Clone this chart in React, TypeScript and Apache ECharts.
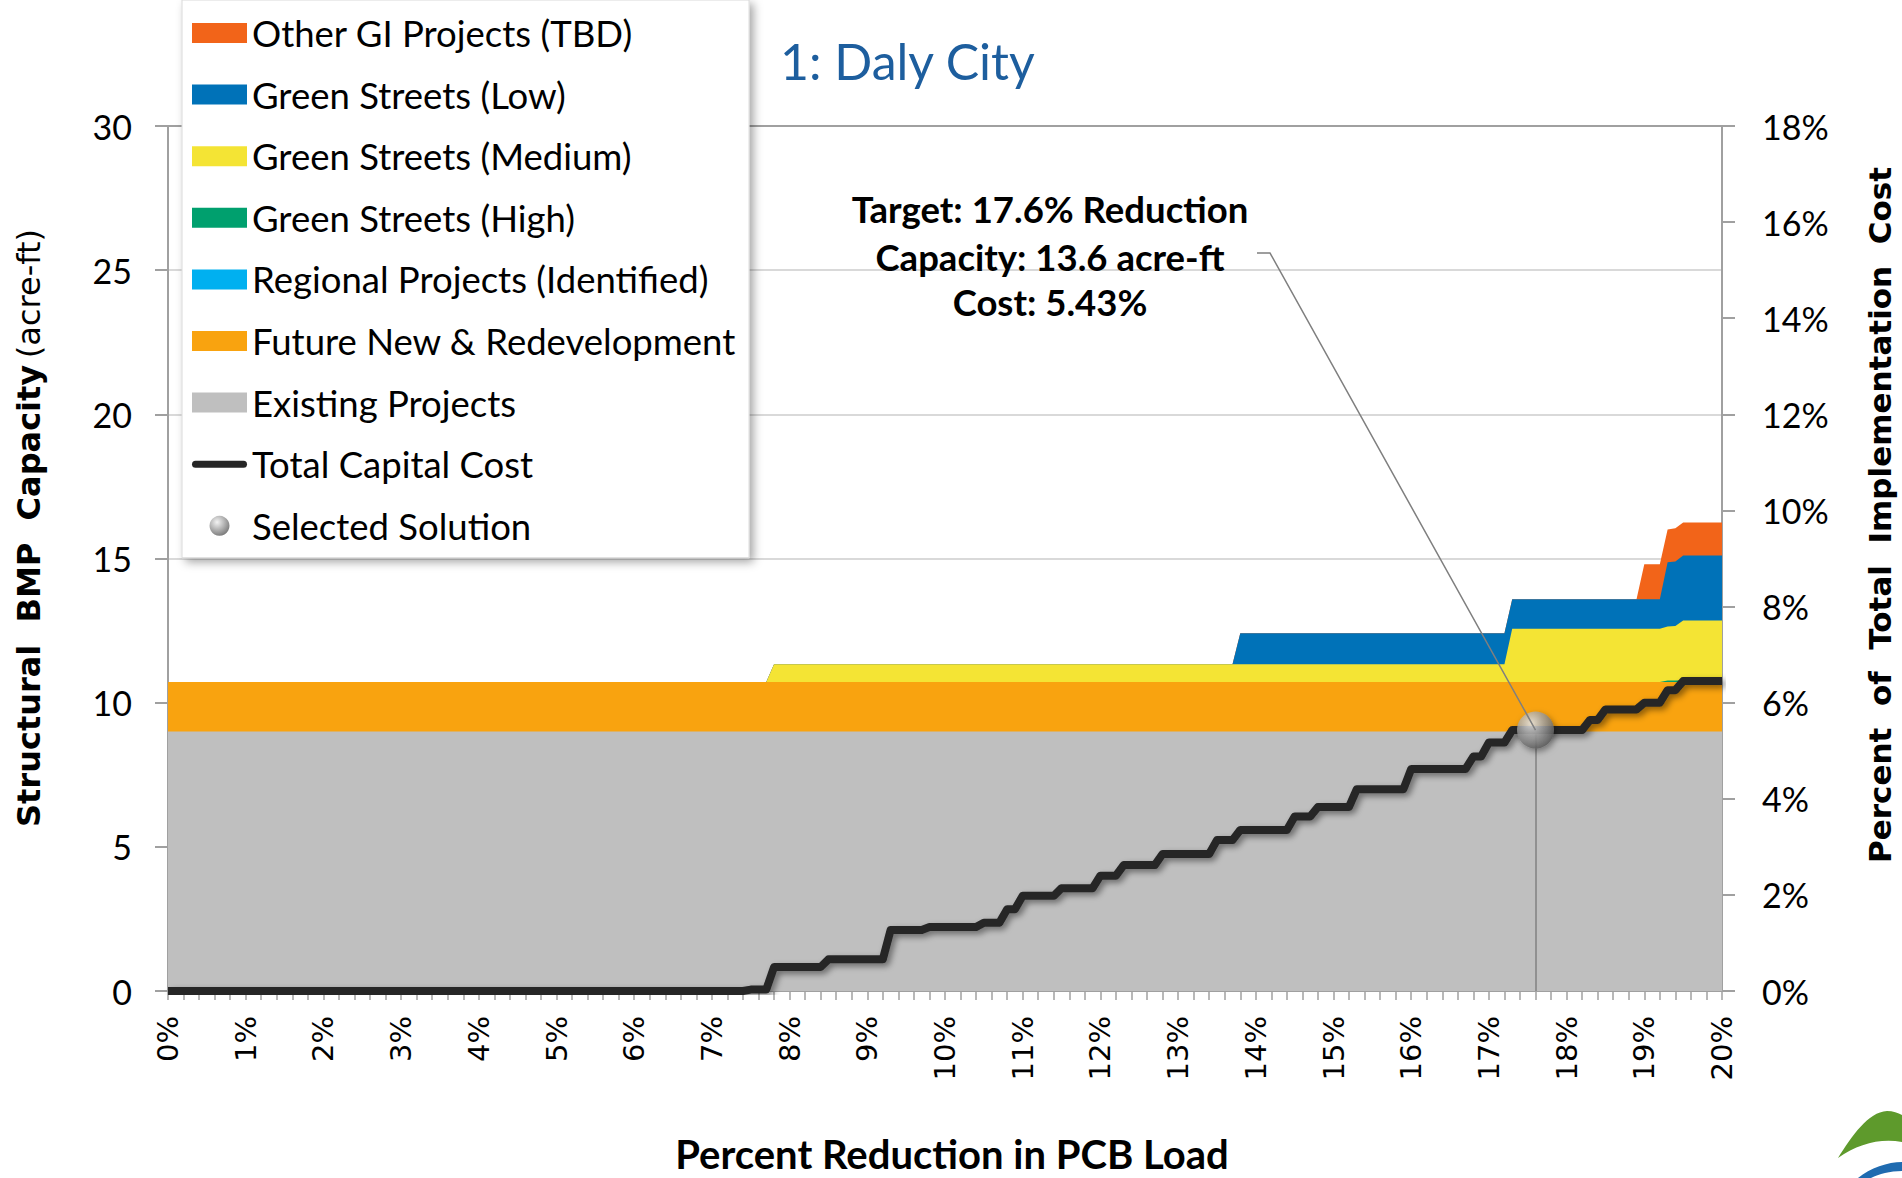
import React, { useEffect, useRef } from "react";
import * as echarts from "echarts";

// ---------- data ----------
// shared x break points (% reduction in PCB load) for the capacity areas
const areaX = [0, 7.7, 7.8, 13.7, 13.8, 17.2, 17.3, 18.9, 19.0, 19.2, 19.3, 19.4, 19.5, 20];
// capacities (acre-ft) of each layer, listed bottom -> top
const existingProjects = [9.0, 9.0, 9.0, 9.0, 9.0, 9.0, 9.0, 9.0, 9.0, 9.0, 9.0, 9.0, 9.0, 9.0];
const futureNewRedevelopment = [1.72, 1.72, 1.72, 1.72, 1.72, 1.72, 1.72, 1.72, 1.72, 1.72, 1.72, 1.72, 1.72, 1.72];
const regionalProjects = [0, 0, 0, 0, 0, 0, 0, 0, 0, 0, 0, 0, 0, 0];
const greenStreetsHigh = [0, 0, 0, 0, 0, 0, 0, 0, 0, 0, 0.05, 0.05, 0.06, 0.06];
const greenStreetsMedium = [0, 0, 0.61, 0.61, 0.61, 0.61, 1.84, 1.84, 1.84, 1.84, 1.87, 1.89, 2.07, 2.07];
const greenStreetsLow = [0, 0, 0, 0, 1.08, 1.08, 1.03, 1.03, 1.03, 1.03, 2.23, 2.24, 2.25, 2.25];
const otherGIProjects = [0, 0, 0, 0, 0, 0, 0, 0, 1.21, 1.21, 1.14, 1.15, 1.15, 1.15];

// total capital cost (% of total implementation cost), corner points of the step line
const costX = [0, 7.4, 7.5, 7.7, 7.8, 8.4, 8.5, 9.2, 9.3, 9.7, 9.8, 10.4, 10.5, 10.7, 10.8, 10.9, 11.0, 11.4, 11.5, 11.9,
  12.0, 12.2, 12.3, 12.7, 12.8, 13.4, 13.5, 13.7, 13.8, 14.4, 14.5, 14.7, 14.8, 15.2, 15.3, 15.9, 16.0, 16.7, 16.8, 16.9,
  17.0, 17.2, 17.3, 18.2, 18.3, 18.4, 18.5, 18.9, 19.0, 19.2, 19.3, 19.4, 19.5, 20];
const costY = [0, 0, 0.03, 0.03, 0.5, 0.5, 0.66, 0.66, 1.27, 1.27, 1.33, 1.33, 1.42, 1.42, 1.70, 1.70, 1.98, 1.98, 2.14, 2.14,
  2.40, 2.40, 2.62, 2.62, 2.85, 2.85, 3.14, 3.14, 3.35, 3.35, 3.63, 3.63, 3.83, 3.83, 4.20, 4.20, 4.62, 4.62, 4.88, 4.88,
  5.17, 5.17, 5.43, 5.43, 5.64, 5.64, 5.86, 5.86, 6.00, 6.00, 6.26, 6.26, 6.45, 6.45];

// selected solution
const selectedReduction = 17.6;
const selectedCost = 5.43;
const annotationLines = ["Target: 17.6% Reduction", "Capacity: 13.6 acre-ft", "Cost: 5.43%"];

const legendNames = [
  "Other GI Projects (TBD)",
  "Green Streets (Low)",
  "Green Streets (Medium)",
  "Green Streets (High)",
  "Regional Projects (Identified)",
  "Future New & Redevelopment",
  "Existing Projects",
  "Total Capital Cost",
  "Selected Solution",
];

const CAL = "Lato, 'Noto Sans', sans-serif";
const VER = "'DejaVu Sans', Verdana, sans-serif";
const AXIS_GRAY = "#A0A0A0";

let shapesRegistered = false;
function registerShapes() {
  if (shapesRegistered) return;
  shapesRegistered = true;
  echarts.graphic.registerShape(
    "logoGreen",
    echarts.graphic.extendPath(
      "M1838,1158 C1852,1136 1868,1112 1887,1111 C1893,1111 1898,1113 1902,1115 L1902,1142 C1880,1138 1858,1144 1838,1158 Z",
      {}
    )
  );
  echarts.graphic.registerShape(
    "logoBlue",
    echarts.graphic.extendPath(
      "M1858,1178 C1870,1168 1888,1162 1902,1162 L1902,1171 C1890,1171 1879,1174 1871,1178 Z",
      {}
    )
  );
}

// layers bottom -> top
const layers = [
  { name: "Existing Projects", values: existingProjects, color: "#BFBFBF" },
  { name: "Future New & Redevelopment", values: futureNewRedevelopment, color: "#F9A30F" },
  { name: "Regional Projects (Identified)", values: regionalProjects, color: "#00B0F0" },
  { name: "Green Streets (High)", values: greenStreetsHigh, color: "#00A06E" },
  { name: "Green Streets (Medium)", values: greenStreetsMedium, color: "#F4E434" },
  { name: "Green Streets (Low)", values: greenStreetsLow, color: "#0072B8" },
  { name: "Other GI Projects (TBD)", values: otherGIProjects, color: "#F26419" },
];

// stacked (cumulative) area series; the topmost layer is listed first so lower layers paint over it
function buildAreaSeries() {
  const running = areaX.map(() => 0);
  const out: any[] = [];
  layers.forEach((layer) => {
    const tops = layer.values.map((v, i) => (running[i] += v));
    out.unshift({
      name: layer.name,
      type: "line",
      xAxisIndex: 0,
      yAxisIndex: 0,
      data: areaX.map((x, i) => [x, tops[i]]),
      showSymbol: false,
      symbol: "none",
      color: layer.color,
      lineStyle: { width: 0, color: layer.color },
      areaStyle: { color: layer.color, opacity: 1, origin: "start" },
      z: 2,
      silent: true,
    });
  });
  return out;
}

export default function App() {
  const ref = useRef<HTMLDivElement>(null);

  useEffect(() => {
    if (!ref.current) return;
    registerShapes();
    const chart = echarts.init(ref.current, undefined, { renderer: "svg" });

    const sphere = new echarts.graphic.RadialGradient(0.38, 0.32, 0.75, [
      { offset: 0, color: "#F0F0F0" },
      { offset: 0.45, color: "#A8A8A8" },
      { offset: 1, color: "#505050" },
    ]);

    const option: any = {
      animation: false,
      backgroundColor: "#ffffff",
      grid: { left: 168, right: 180, top: 126, bottom: 187, containLabel: false },
      legend: {
        orient: "vertical",
        left: 182,
        top: 0,
        padding: [13, 13, 12, 10],
        itemWidth: 55,
        itemHeight: 20,
        itemGap: 21.6,
        selectedMode: false,
        backgroundColor: "#ffffff",
        borderColor: "#D9D9D9",
        borderWidth: 1,
        shadowBlur: 10,
        shadowColor: "rgba(0,0,0,0.35)",
        shadowOffsetX: 4,
        shadowOffsetY: 4,
        textStyle: { fontFamily: CAL, fontSize: 36.5, color: "#000", lineHeight: 40 },
        data: legendNames.map((n) => {
          if (n === "Total Capital Cost")
            return { name: n, icon: "path://M3.5,0 L51.5,0 A3.5,3.5 0 0 1 51.5,7 L3.5,7 A3.5,3.5 0 0 1 3.5,0 Z" };
          if (n === "Selected Solution") return { name: n, icon: "circle" };
          return { name: n, icon: "rect" };
        }),
      },
      xAxis: {
        type: "value",
        min: 0,
        max: 20,
        interval: 1,
        axisLine: { show: true, lineStyle: { color: AXIS_GRAY, width: 2 } },
        axisTick: { show: true, length: 9, lineStyle: { color: AXIS_GRAY, width: 1.5 } },
        minorTick: { show: true, splitNumber: 5, length: 9, lineStyle: { color: AXIS_GRAY, width: 1.5 } },
        splitLine: { show: false },
        axisLabel: {
          rotate: 90,
          margin: 25,
          fontFamily: VER,
          fontSize: 29,
          color: "#000",
          formatter: (v: number) => `${v}%`,
        },
      },
      yAxis: [
        {
          type: "value",
          min: 0,
          max: 30,
          interval: 5,
          axisLine: { show: true, lineStyle: { color: AXIS_GRAY, width: 2 } },
          axisTick: { show: true, length: 13, lineStyle: { color: AXIS_GRAY, width: 2 } },
          splitLine: {
            show: true,
            lineStyle: {
              color: ["#D9D9D9", "#D9D9D9", "#D9D9D9", "#D9D9D9", "#D9D9D9", "#D9D9D9", AXIS_GRAY],
              width: 2,
            },
          },
          axisLabel: { margin: 36, fontFamily: CAL, fontSize: 34, color: "#000" },
        },
        {
          type: "value",
          min: 0,
          max: 18,
          interval: 2,
          position: "right",
          axisLine: { show: true, lineStyle: { color: AXIS_GRAY, width: 2 } },
          axisTick: { show: true, length: 13, lineStyle: { color: AXIS_GRAY, width: 2 } },
          splitLine: { show: false },
          axisLabel: { margin: 40, fontFamily: CAL, fontSize: 34, color: "#000", formatter: (v: number) => `${v}%` },
        },
      ],
      series: [
        ...buildAreaSeries(),
        {
          name: "Total Capital Cost",
          type: "line",
          xAxisIndex: 0,
          yAxisIndex: 1,
          data: costX.map((x, i) => [x, costY[i]]),
          symbol: "none",
          showSymbol: false,
          color: "#262626",
          lineStyle: {
            width: 8,
            color: "#262626",
            join: "round",
            shadowBlur: 6,
            shadowColor: "rgba(0,0,0,0.45)",
            shadowOffsetX: 3,
            shadowOffsetY: 3,
          },
          z: 3,
          silent: true,
        },
        {
          name: "Selected Solution",
          type: "scatter",
          xAxisIndex: 0,
          yAxisIndex: 1,
          data: [[selectedReduction, selectedCost]],
          symbol: "circle",
          symbolSize: 37,
          color: sphere,
          itemStyle: {
            color: sphere,
            shadowBlur: 6,
            shadowColor: "rgba(0,0,0,0.5)",
            shadowOffsetX: 2,
            shadowOffsetY: 3,
          },
          z: 4,
          silent: true,
          markLine: {
            silent: true,
            symbol: "none",
            label: { show: false },
            lineStyle: { color: "#808080", width: 1.5, type: "solid" },
            data: [[{ coord: [selectedReduction, selectedCost] }, { coord: [selectedReduction, 0] }]],
            z: 3,
          },
        },
      ],
    };

    chart.setOption(option);

    const mp = chart.convertToPixel({ xAxisIndex: 0, yAxisIndex: 1 } as any, [selectedReduction, selectedCost]) as number[];

    const graphics: any[] = [
      {
        type: "text",
        x: 780,
        y: 61,
        z: 10,
        style: { text: "1: Daly City", fill: "#1D5E9E", font: `50px ${CAL}`, align: "left", verticalAlign: "middle" },
      },
      {
        type: "text",
        x: 29,
        y: 528,
        rotation: Math.PI / 2,
        z: 10,
        style: {
          text: "{b|Structural  BMP  Capacity}  {n|(acre-ft)}",
          align: "center",
          verticalAlign: "middle",
          rich: {
            b: { fontFamily: VER, fontWeight: "bold", fontSize: 32, fill: "#000" },
            n: { fontFamily: VER, fontWeight: "normal", fontSize: 32, fill: "#000" },
          },
        },
      },
      {
        type: "text",
        x: 1880,
        y: 515,
        rotation: Math.PI / 2,
        z: 10,
        style: {
          text: "Percent  of  Total  Implementation  Cost",
          fill: "#000",
          font: `bold 31px ${VER}`,
          align: "center",
          verticalAlign: "middle",
        },
      },
      {
        type: "text",
        x: 952,
        y: 1154,
        z: 10,
        style: {
          text: "Percent Reduction in PCB Load",
          fill: "#000",
          font: `bold 40px ${CAL}`,
          align: "center",
          verticalAlign: "middle",
        },
      },
      ...annotationLines.map((t, i) => ({
        type: "text",
        x: 1050,
        y: [209, 257, 302][i],
        z: 10,
        style: { text: t, fill: "#000", font: `bold 36.5px ${CAL}`, align: "center", verticalAlign: "middle" },
      })),
      {
        type: "polyline",
        z: 10,
        silent: true,
        shape: { points: [[1257, 253], [1270, 253], [mp[0], mp[1]]] },
        style: { stroke: "#7F7F7F", lineWidth: 1.5, fill: "none" },
      },
      { type: "logoGreen", x: 0, y: 0, z: 10, style: { fill: "#5E9A2C", stroke: "none" } },
      { type: "logoBlue", x: 0, y: 0, z: 10, style: { fill: "#1F6BB0", stroke: "none" } },
    ];

    chart.setOption({ graphic: graphics });

    return () => {
      chart.dispose();
    };
  }, []);

  return (
    <div
      ref={ref}
      style={{ position: "fixed", left: 0, top: 0, width: 1902, height: 1178, background: "#fff" }}
    />
  );
}
